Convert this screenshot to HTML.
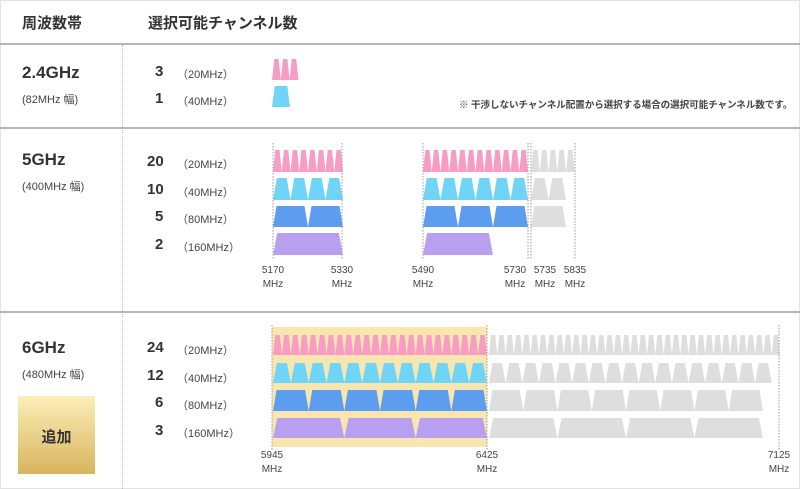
<!DOCTYPE html>
<html><head><meta charset="utf-8"><style>
body{margin:0;background:#fff;}
#c{position:relative;width:800px;height:489px;overflow:hidden;font-family:"Liberation Sans","Noto Sans CJK JP",sans-serif;color:#333;}
.t{position:absolute;white-space:nowrap;}
.h{font-size:15px;font-weight:bold;}
.g{font-size:17px;font-weight:bold;}
.s{font-size:11px;color:#444;}
.n{font-size:15px;font-weight:bold;}
.m{font-size:11px;color:#444;}
.f{font-size:10px;color:#444;line-height:14px;text-align:center;}
.hl{position:absolute;left:0;width:800px;height:2px;background:#b5b5b5;}
</style></head><body><div id="c">
<div style="position:absolute;left:0;top:0;width:798px;height:487px;border:1px solid #e2e2e2"></div>
<div class="hl" style="top:43px"></div>
<div class="hl" style="top:127px"></div>
<div class="hl" style="top:311px"></div>
<div style="position:absolute;left:122px;top:45px;height:444px;border-left:1px dotted #bbb"></div>
<div class="t h" style="left:22px;top:12px">周波数帯</div>
<div class="t h" style="left:148px;top:12px">選択可能チャンネル数</div>
<div class="t g" style="left:22px;top:63px">2.4GHz</div>
<div class="t s" style="left:22px;top:91px">(82MHz 幅)</div>
<div class="t g" style="left:22px;top:150px">5GHz</div>
<div class="t s" style="left:22px;top:178px">(400MHz 幅)</div>
<div class="t g" style="left:22px;top:338px">6GHz</div>
<div class="t s" style="left:22px;top:366px">(480MHz 幅)</div>
<div style="position:absolute;left:18px;top:396px;width:77px;height:78px;background:linear-gradient(#fbefb8,#d8b45e);"></div>
<div class="t" style="left:18px;top:426px;width:77px;text-align:center;font-size:15px;font-weight:bold">追加</div>
<div class="t" style="left:459px;top:97px;font-size:9.6px;font-weight:bold;color:#444;letter-spacing:-0.1px">※ 干渉しないチャンネル配置から選択する場合の選択可能チャンネル数です。</div>
<svg id="sv" width="800" height="489" style="position:absolute;left:0;top:0"></svg>
<div id="lab"></div>
</div>
<script>
var sv=document.getElementById('sv'),ns='http://www.w3.org/2000/svg',html='';
function el(n,a){var e=document.createElementNS(ns,n);for(var k in a)e.setAttribute(k,a[k]);sv.appendChild(e);return e;}
function tr(x0,x1,y0,y1,r,c){var w=x1-x0,i=w*r;el('polygon',{points:x0+','+y1+' '+(x0+i)+','+y0+' '+(x1-i)+','+y0+' '+x1+','+y1,fill:c});}
function row(x,sc,n,bw,y0,y1,r,c){for(var k=0;k<n;k++){tr(x+k*bw*sc,x+(k+1)*bw*sc,y0,y1,r,c);}}
function vl(x,y0,y1){el('line',{x1:x,x2:x,y1:y0,y2:y1,stroke:'#999','stroke-width':1,'stroke-dasharray':'1.5,1.5'});}
function lb(x,y,v,u){html+='<div class="t n" style="left:'+(x-(v.length>1?8:0))+'px;top:'+(y-9)+'px">'+v+'</div><div class="t m" style="left:177px;top:'+(y-6)+'px">'+u+'</div>';}
function fl(x,y,v){html+='<div class="t f" style="left:'+(x-16)+'px;top:'+y+'px;width:32px">'+v+'<br>MHz</div>';}
var P='#f79cc3',C='#6fd4f8',B='#5c9df0',V='#b99ff0',G='#dedede';
// 2.4
row(272,1,3,8.8,59,80,0.25,P);tr(272,290,86,107,0.15,C);
lb(155,72,'3','（20MHz）');lb(155,99,'1','（40MHz）');
// 5GHz
var s=0.4375,r5=[[150,172,0.25,P,20],[178,200,0.22,C,40],[206,227,0.1,B,80],[233,255,0.06,V,160]];
var c1=[8,4,2,1],c2=[12,6,3,1],c3=[5,2,1,0];
r5.forEach(function(q,i){row(273,s,c1[i],q[4],q[0],q[1],q[2],q[3]);row(423,s,c2[i],q[4],q[0],q[1],q[2],q[3]);row(531,s,c3[i],q[4],q[0],q[1],q[2],G);});
[273,342,423,528,531,575].forEach(function(x){vl(x,143,260);});
lb(155,162,'20','（20MHz）');lb(155,190,'10','（40MHz）');lb(155,217,'5','（80MHz）');lb(155,245,'2','（160MHz）');
fl(273,264,'5170');fl(342,264,'5330');fl(423,264,'5490');fl(515,264,'5730');fl(545,264,'5735');fl(575,264,'5835');
// 6GHz
el('rect',{x:272,y:327,width:215,height:120,fill:'#f8e6ae'});
var r6=[[335,355,0.25,P,20,0.4157],[363,383,0.22,C,40,0.4157],[390,411,0.1,B,80,0.428],[418,438,0.06,V,160,0.428]];
var k1=[24,12,6,3],k2=[35,17,8,4];
r6.forEach(function(q,i){row(273,0.4458,k1[i],q[4],q[0],q[1],q[2],q[3]);row(489,q[5],k2[i],q[4],q[0],q[1],q[2],G);});
vl(272,325,450);vl(487,325,450);vl(779,325,450);
lb(155,348,'24','（20MHz）');lb(155,376,'12','（40MHz）');lb(155,403,'6','（80MHz）');lb(155,431,'3','（160MHz）');
fl(272,449,'5945');fl(487,449,'6425');fl(779,449,'7125');
document.getElementById('lab').innerHTML=html;
</script>
</body></html>
